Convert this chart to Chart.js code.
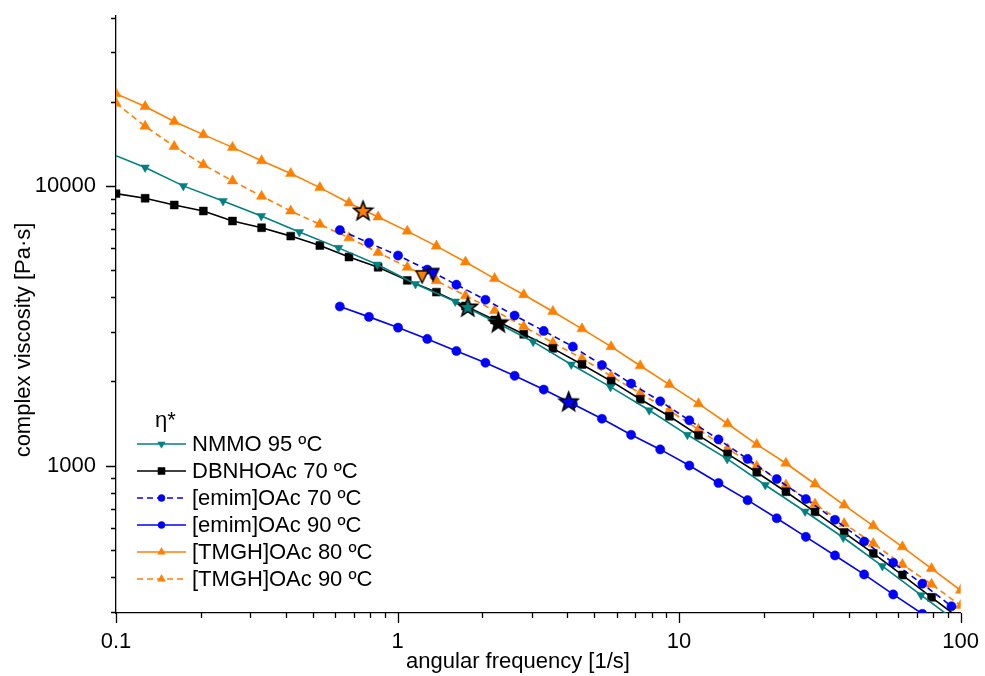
<!DOCTYPE html>
<html>
<head>
<meta charset="utf-8">
<script src="https://cdn.jsdelivr.net/npm/chart.js@4.4.1/dist/chart.umd.min.js"></script>
<style>
    html, body { margin: 0; padding: 0; background: #fff; }
    #wrap { width: 985px; height: 676px; }
</style>
</head>
<body>
<div id="wrap"><canvas id="chart" width="985" height="676"></canvas></div>
<script>
// angular frequency grids [1/s]
const freqA = [0.1, 0.1269, 0.1610, 0.2043, 0.2593, 0.3290, 0.4175, 0.5298, 0.6723, 0.8532,
    1.083, 1.374, 1.743, 2.212, 2.807, 3.562, 4.520, 5.736, 7.279, 9.237,
    11.72, 14.87, 18.87, 23.95, 30.39, 38.57, 48.94, 62.10, 78.80, 100];
const freqB = [0.6237, 0.7915, 1.004, 1.275, 1.618, 2.052, 2.605, 3.305, 4.194, 5.321,
    6.753, 8.568, 10.87, 13.80, 17.51, 22.22, 28.20, 35.78, 45.41, 57.61, 73.11, 92.78];
const freqNmmo = [0.1, 0.1269, 0.1734, 0.2400, 0.3281, 0.4480, 0.6169, 0.8472, 1.158, 1.603,
    2.207, 3.031, 4.140, 5.705, 7.834, 10.70, 14.82, 20.23, 28.02, 38.28, 52.72, 72.38, 100];

// complex viscosity [Pa·s]
const nmmo95 = [12820, 11636, 10000, 8834, 7802, 6835, 6003, 5232, 4457, 3862,
    3272, 2773, 2298, 1911, 1576, 1288, 1056, 852, 685, 553, 437, 344, 270];
const dbnh70 = [9382, 9032, 8545, 8130, 7486, 7085, 6613, 6120, 5568, 5117,
    4594, 4170, 3721, 3314, 2946, 2624, 2298, 2003, 1726, 1500,
    1282, 1101, 946, 806, 683, 576, 485, 406, 338, 282];
const emim70 = [6950, 6255, 5636, 5019, 4434, 3916, 3439, 3030, 2662, 2288,
    1964, 1698, 1451, 1240, 1056, 895, 759, 640, 535, 449, 378, 314];
const emim90 = [3705, 3401, 3113, 2836, 2568, 2331, 2094, 1869, 1661, 1470,
    1288, 1142, 1000, 866, 752, 648, 556, 477, 408, 346, 295];
const tmgh80 = [21360, 19220, 16980, 15250, 13730, 12300, 11070, 9860, 8690, 7740,
    6890, 6090, 5345, 4660, 4083, 3555, 3082, 2662, 2274, 1948,
    1665, 1411, 1190, 1019, 859, 722, 609, 512, 428, 358];
const tmgh90 = [19760, 16340, 13840, 11900, 10420, 9184, 8130, 7285, 6522, 5778,
    5117, 4583, 4049, 3585, 3140, 2751, 2416, 2088, 1814, 1571,
    1347, 1147, 994, 852, 728, 620, 526, 443, 376, 316];

// crossover markers
const starFreq = [0.754, 1.777, 2.28, 4.053];
const starVisc = [8178, 3705, 3254, 1698];
const triFreq = [1.222, 1.336];
const triVisc = [4749, 4840];

const labels = ["NMMO 95 ºC", "DBNHOAc 70 ºC", "[emim]OAc 70 ºC", "[emim]OAc 90 ºC", "[TMGH]OAc 80 ºC", "[TMGH]OAc 90 ºC"];
const xTickLabels = ["0.1", "1", "10", "100"];
const yTickLabels = ["1000", "10000"];

const TEAL = "#008080", BLACK = "#000000", BLUE = "#0000FF", ORANGE = "#FF8000";
const FONT = "'Liberation Sans', Arial, sans-serif";
const FS = 22;

const pts = (xs, ys) => ys.map((y, i) => ({ x: xs[i], y: y }));

function starImage(fill, size) {
    const c = document.createElement("canvas");
    c.width = c.height = size;
    const g = c.getContext("2d");
    const r = size / 2 - 1.5, ri = r * 0.42, cx = size / 2, cy = size / 2 + 1;
    g.beginPath();
    for (let k = 0; k < 10; k++) {
        const rr = k % 2 ? ri : r;
        const a = -Math.PI / 2 + k * Math.PI / 5;
        g.lineTo(cx + rr * Math.cos(a), cy + rr * Math.sin(a));
    }
    g.closePath();
    g.fillStyle = fill;
    g.fill();
    g.lineWidth = 1.6;
    g.strokeStyle = "#000";
    g.stroke();
    return c;
}

function downTriImage(fill, size) {
    const c = document.createElement("canvas");
    c.width = c.height = size;
    const g = c.getContext("2d");
    g.beginPath();
    g.moveTo(1.5, 2);
    g.lineTo(size - 1.5, 2);
    g.lineTo(size / 2, size - 1);
    g.closePath();
    g.fillStyle = fill;
    g.fill();
    g.lineWidth = 1.4;
    g.strokeStyle = "#000";
    g.stroke();
    return c;
}

const lastIdx = nmmo95.length - 1;

const series = [
    { label: labels[0], data: pts(freqNmmo, nmmo95), color: TEAL, dash: [], style: "triangle", rotation: 180,
      radius: (c) => (c.dataIndex === 0 || c.dataIndex === lastIdx) ? 0 : 5, legendRadius: 4.2 },
    { label: labels[1], data: pts(freqA, dbnh70), color: BLACK, dash: [], style: "rect", rotation: 0, radius: 5.6, legendRadius: 5 },
    { label: labels[2], data: pts(freqB, emim70), color: BLUE, dash: [6, 4], style: "circle", rotation: 0, radius: 4.6, legendRadius: 3.5 },
    { label: labels[3], data: pts(freqB, emim90), color: BLUE, dash: [], style: "circle", rotation: 0, radius: 4.6, legendRadius: 3.5 },
    { label: labels[4], data: pts(freqA, tmgh80), color: ORANGE, dash: [], style: "triangle", rotation: 0, radius: 6, legendRadius: 4.5 },
    { label: labels[5], data: pts(freqA, tmgh90), color: ORANGE, dash: [6, 4], style: "triangle", rotation: 0, radius: 6, legendRadius: 4.5 },
];

const datasets = series.map((s) => ({
    label: s.label,
    data: s.data,
    borderColor: s.color,
    backgroundColor: s.color,
    borderWidth: 1.6,
    borderDash: s.dash,
    pointStyle: s.style,
    pointRotation: s.rotation,
    pointRadius: s.radius,
    pointBorderWidth: 0.5,
    pointBorderColor: s.color,
    pointBackgroundColor: s.color,
    tension: 0,
    fill: false,
}));

const starColors = [ORANGE, TEAL, BLACK, BLUE];
datasets.push({
    label: "crossover",
    data: pts(starFreq, starVisc),
    showLine: false,
    pointStyle: starColors.map((c) => starImage(c, 23)),
    pointRadius: 10,
    order: -1,
    clip: false,
});
datasets.push({
    label: "crossover 90",
    data: pts(triFreq, triVisc),
    showLine: false,
    pointStyle: [ORANGE, BLUE].map((c) => downTriImage(c, 15)),
    pointRadius: 8,
    order: -2,
    clip: false,
});

// outward ticks, long for decades, short for the rest
const tickPlugin = {
    id: "logTicks",
    afterDraw(chart) {
        const ctx = chart.ctx;
        const xs = chart.scales.x, ys = chart.scales.y;
        ctx.save();
        ctx.strokeStyle = "#000";
        ctx.lineWidth = 1.3;
        ctx.beginPath();
        xs.ticks.forEach((t) => {
            const px = Math.round(xs.getPixelForValue(t.value)) + 0.5;
            const len = t.major ? 10 : 5;
            ctx.moveTo(px, xs.top);
            ctx.lineTo(px, xs.top + len);
        });
        ys.ticks.forEach((t) => {
            const py = Math.round(ys.getPixelForValue(t.value)) + 0.5;
            const len = t.major ? 10 : 5;
            ctx.moveTo(ys.right, py);
            ctx.lineTo(ys.right - len, py);
        });
        ctx.stroke();

        // axis titles
        ctx.fillStyle = "#000";
        ctx.font = FS + "px " + FONT;
        ctx.textAlign = "center";
        ctx.textBaseline = "middle";
        ctx.fillText("angular frequency [1/s]", 518, 662);
        ctx.translate(24, 340);
        ctx.rotate(-Math.PI / 2);
        ctx.fillText("complex viscosity [Pa·s]", 0, 0);
        ctx.restore();
    },
};

// legend drawn inside the plot, bottom left
const legendPlugin = {
    id: "innerLegend",
    afterDraw(chart) {
        const ctx = chart.ctx;
        ctx.save();
        ctx.fillStyle = "#000";
        ctx.font = FS + "px " + FONT;
        ctx.textBaseline = "middle";
        ctx.textAlign = "left";
        ctx.fillText("η*", 155, 421);
        const x0 = 137, x1 = 186, tx = 192, y0 = 444, dy = 27;
        series.forEach((s, i) => {
            const y = y0 + i * dy;
            ctx.beginPath();
            ctx.setLineDash(s.dash);
            ctx.strokeStyle = s.color;
            ctx.lineWidth = 1.5;
            ctx.moveTo(x0, y);
            ctx.lineTo(x1, y);
            ctx.stroke();
            ctx.setLineDash([]);
            ctx.fillStyle = s.color;
            ctx.strokeStyle = s.color;
            ctx.lineWidth = 0.5;
            Chart.helpers.drawPoint(ctx, { pointStyle: s.style, rotation: s.rotation, radius: s.legendRadius, borderWidth: 0.5 }, (x0 + x1) / 2, y);
            ctx.fillStyle = "#000";
            ctx.fillText(s.label, tx, y + 1);
        });
        ctx.restore();
    },
};

function decadeTicks(min, max) {
    const out = [];
    for (let d = Math.floor(Math.log10(min)); d <= Math.ceil(Math.log10(max)); d++) {
        for (let m = 1; m < 10; m++) {
            const v = m * Math.pow(10, d);
            if (v >= min * 0.999 && v <= max * 1.001) out.push({ value: v, major: m === 1 });
        }
    }
    return out;
}

new Chart(document.getElementById("chart"), {
    type: "line",
    data: { datasets: datasets },
    options: {
        responsive: false,
        animation: false,
        layout: { padding: { left: 0, right: 20, top: 16, bottom: 0 } },
        plugins: {
            legend: { display: false },
            tooltip: { enabled: false },
        },
        scales: {
            x: {
                type: "logarithmic",
                min: 0.1,
                max: 100,
                afterBuildTicks: (s) => { s.ticks = decadeTicks(0.1, 100); },
                afterFit: (s) => { s.height = 63; },
                grid: { drawOnChartArea: false, drawTicks: true, tickLength: 10, tickColor: "rgba(0,0,0,0)" },
                border: { display: true, color: "#000", width: 1.3 },
                ticks: {
                    autoSkip: false,
                    maxRotation: 0,
                    padding: 6,
                    color: "#000",
                    font: { family: FONT, size: FS },
                    callback: (v) => {
                        const lab = xTickLabels.find((l) => Math.abs(parseFloat(l) - v) < 1e-9);
                        return lab || "";
                    },
                },
            },
            y: {
                type: "logarithmic",
                min: 297,
                max: 40500,
                afterBuildTicks: (s) => { s.ticks = decadeTicks(297, 40500); },
                afterFit: (s) => { s.width = 116; },
                grid: { drawOnChartArea: false, drawTicks: true, tickLength: 10, tickColor: "rgba(0,0,0,0)" },
                border: { display: true, color: "#000", width: 1.3 },
                ticks: {
                    autoSkip: false,
                    padding: 10,
                    color: "#000",
                    font: { family: FONT, size: FS, lineHeight: 0.2 },
                    callback: (v) => {
                        const lab = yTickLabels.find((l) => Math.abs(parseFloat(l) - v) < 1e-6);
                        return lab || "";
                    },
                },
            },
        },
    },
    plugins: [tickPlugin, legendPlugin],
});
</script>
</body>
</html>
